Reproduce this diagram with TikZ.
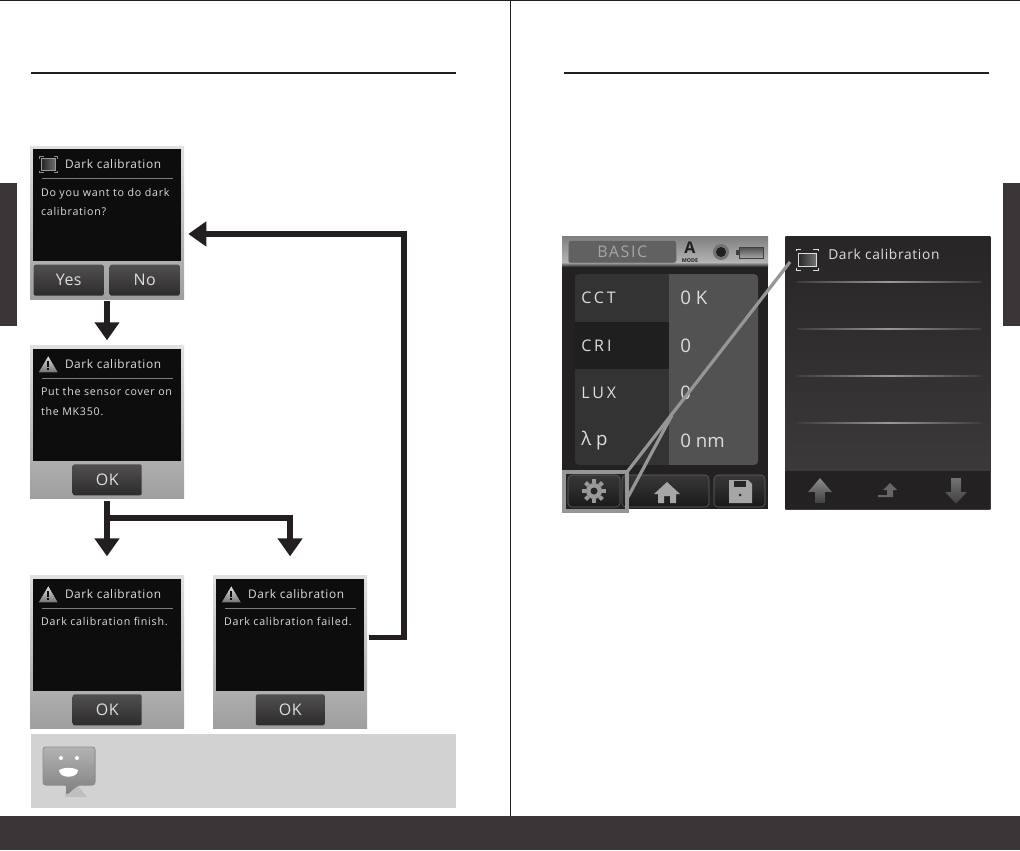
\documentclass[tikz,border=0pt]{standalone}
\usepackage{fontspec}
\setmainfont{Open Sans}
\usetikzlibrary{arrows.meta,positioning,calc}
\definecolor{inkdark}{RGB}{35,31,32}
\definecolor{bardark}{RGB}{58,54,55}
\definecolor{screenblack}{RGB}{13,13,13}
\definecolor{notegray}{RGB}{210,210,210}
\definecolor{rulegray}{RGB}{125,125,125}
\definecolor{softwhite}{RGB}{222,222,222}
\definecolor{btndark}{RGB}{50,48,49}
\definecolor{devdark}{RGB}{36,33,34}
\definecolor{devmid}{RGB}{62,60,61}
\definecolor{hilite}{RGB}{150,150,150}
\tikzset{
  framebox/.style={rectangle, inner sep=0pt, minimum width=115.5pt, minimum height=114.75pt,
                   top color=black!12, bottom color=black!38},
  blackbox/.style={rectangle, inner sep=0pt, minimum width=111pt, minimum height=84pt, fill=screenblack},
  btnbox/.style={rectangle, rounded corners=1.5pt, inner sep=0pt, minimum height=23.25pt,
                 top color=btndark!85!white, bottom color=btndark!90!black,
                 text=softwhite, font=\fontsize{12}{12}\selectfont\addfontfeature{LetterSpace=3}},
  titletext/.style={anchor=west, inner sep=0pt, text=softwhite,
                    font=\fontsize{8.9}{10}\selectfont\addfontfeature{LetterSpace=5}},
  bodytext/.style={anchor=north west, inner sep=0pt, align=left, text=softwhite,
                   font=\fontsize{8}{14.6}\selectfont\addfontfeature{LetterSpace=7}},
  flowline/.style={-{Triangle[length=13.5pt,width=18pt]}, line width=4.2pt, inkdark},
  zoomline/.style={line width=2.4pt, hilite},
  rowbox/.style={rectangle, inner sep=0pt, minimum width=70.5pt, minimum height=35.8pt},
  celltext/.style={anchor=west, inner sep=0pt, text=softwhite, font=\fontsize{12}{14}\selectfont},
  softbar/.style={rectangle, inner sep=0pt, minimum width=138pt, minimum height=0.75pt,
                  left color=devmid, right color=devmid, middle color=black!40},
}
\begin{document}
\begin{tikzpicture}[x=0.75pt,y=0.75pt]
\useasboundingbox (0,0) rectangle (1020,-850);

% page furniture
\fill[white] (0,0) rectangle (1020,-850);
\draw[inkdark,line width=0.75pt] (0,-0.5) -- (1020,-0.5);
\draw[inkdark,line width=0.75pt] (510.5,0) -- (510.5,-816);
\fill[bardark] (0,-816) rectangle (1020,-850);
\fill[bardark] (0,-183) rectangle (17,-326);
\fill[bardark] (1003,-183) rectangle (1020,-326);
\draw[inkdark,line width=1.5pt] (31,-73) -- (456,-73);
\draw[inkdark,line width=1.5pt] (564,-73) -- (989,-73);

% dialogs
\node[framebox] at (107,-222.5) (ask) {};
\node[framebox, below=34.5pt of ask] (put) {};
\node[framebox, below=57.4pt of put] (finish) {};
\node[framebox, right=21.4pt of finish] (fail) {};

\foreach \f in {ask,put,finish,fail} {
  \node[blackbox, below=2.25pt of \f.north] (\f top) {};
  \node[titletext] at ($(\f.north west)+(35,-18.5)$) (\f title) {Dark calibration};
  \draw[rulegray,line width=0.9pt] ($(\f.north west)+(12,-33)$) -- ($(\f.north west)+(143,-33)$);
}
\node[bodytext] at ($(ask.north west)+(11,-42)$) (asktext) {Do you want to do dark\\calibration?};
\node[bodytext] at ($(put.north west)+(11,-42)$) (puttext) {Put the sensor cover on\\the MK350.};
\node[bodytext] at ($(finish.north west)+(11,-42)$) (finishtext) {Dark calibration finish.};
\node[bodytext] at ($(fail.north west)+(11,-42)$) (failtext) {Dark calibration failed.};

% buttons
\node[btnbox, minimum width=52.5pt] at ($(ask.north west)+(39,-134.5)$) (yes) {Yes};
\node[btnbox, minimum width=52.5pt] at ($(ask.north west)+(115,-134.5)$) (no) {No};
\foreach \f in {put,finish,fail}
  \node[btnbox, minimum width=51.75pt] at ($(\f.north west)+(77.5,-134.5)$) (\f ok) {OK};

% warning icons
\foreach \f in {put,finish,fail} {
  \fill[top color=black!12, bottom color=black!55] ($(\f.north west)+(9,-27)$) -- ($(\f.north west)+(18.5,-11)$)
    -- ($(\f.north west)+(28,-27)$) -- cycle;
  \fill[screenblack] ($(\f.north west)+(17.5,-15.5)$) rectangle ($(\f.north west)+(19.5,-22)$);
  \fill[screenblack] ($(\f.north west)+(17.5,-23)$) rectangle ($(\f.north west)+(19.5,-25)$);
}
% monitor icon
\draw[black!45,line width=0.5pt] ($(ask.north west)+(10,-13)$) -- ++(0,2) -- ++(4,0)
  ($(ask.north west)+(28,-13)$) -- ++(0,2) -- ++(-4,0)
  ($(ask.north west)+(10,-25)$) -- ++(0,-2) -- ++(4,0)
  ($(ask.north west)+(28,-25)$) -- ++(0,-2) -- ++(-4,0);
\fill[left color=black!85, right color=black!55, draw=black!40, line width=0.5pt]
  ($(ask.north west)+(12,-13)$) rectangle ($(ask.north west)+(26,-24.5)$);

% flow
\coordinate[below=14.25pt of put.south] (split);
\coordinate (bend) at (404,-400);
\draw[flowline, shorten <=1.5pt, shorten >=3.75pt] (ask.south) -- (put.north);
\draw[flowline, shorten <=1.5pt, shorten >=14.25pt] (put.south) -- (finish.north);
\draw[flowline, shorten >=14.25pt] (split) -| (fail.north);
\draw[flowline, shorten <=1pt, shorten >=3pt] ([yshift=-46.5pt]fail.north east) -| (bend) |- ([yshift=-8.6pt]ask.east);

% note
\node[rectangle, inner sep=0pt, minimum width=318.75pt, minimum height=55.5pt, fill=notegray,
      anchor=north west] at (31,-734) (note) {};
\fill[black!25] ($(note.north west)+(36,-51)$) -- ($(note.north west)+(46,-51)$) -- ($(note.north west)+(56,-63)$)
  -- ($(note.north west)+(34,-63)$) -- cycle;
\fill[top color=black!30, bottom color=black!50, draw=black!45, line width=0.5pt, rounded corners=2pt]
  ($(note.north west)+(12,-13)$) -- ($(note.north west)+(64,-13)$) -- ($(note.north west)+(64,-51)$)
  -- ($(note.north west)+(47,-51)$) -- ($(note.north west)+(35,-61)$) -- ($(note.north west)+(36,-51)$)
  -- ($(note.north west)+(12,-51)$) -- cycle;
\fill[white] ($(note.north west)+(30,-24)$) circle (2);
\fill[white] ($(note.north west)+(46,-24)$) circle (2);
\fill[white] ($(note.north west)+(28,-36)$) .. controls ($(note.north west)+(33,-33)$) and ($(note.north west)+(42,-33)$)
  .. ($(note.north west)+(47,-36)$) .. controls ($(note.north west)+(47,-45)$) and ($(note.north west)+(28,-45)$)
  .. cycle;

% device left
\node[rectangle, inner sep=0pt, minimum width=154.5pt, minimum height=204.75pt, fill=devdark, anchor=north west]
  at (562,-236) (basicdev) {};
\fill[top color=black!50, bottom color=black!30] (562,-236) rectangle (768,-262);
\fill[top color=black!28, bottom color=black!75] (562,-262) rectangle (768,-266);
\node[rectangle, rounded corners=2pt, inner sep=0pt, minimum width=81pt, minimum height=17pt, fill=black!62,
      draw=black!45, line width=0.4pt, text=black!35, anchor=north west, font=\fontsize{12}{14}\selectfont]
  at (568,-240) (basic) {\addfontfeature{LetterSpace=10}BASIC};
\node[inner sep=0pt, text=inkdark, font=\fontsize{12}{12}\bfseries\selectfont] at (690,-247.5) (modea) {A};
\node[inner sep=0pt, text=inkdark, font=\fontsize{4}{4}\bfseries\selectfont] at (690,-260.5) (modetext) {MODE};
\fill[black!55] (721,-252) circle (8);
\fill[inkdark] (721,-252) circle (5);
\fill[top color=black!70, bottom color=black!35, draw=black!75, line width=0.5pt] (739,-247) rectangle (763,-258);
\fill[black!75] (736,-250) rectangle (739,-255);

\begin{scope}
  \clip[rounded corners=3pt] (575,-274) rectangle (758,-465);
  \foreach \y [count=\n] in {298, 345.5, 393, 441} {
    \ifnum\n=2 \node[rowbox, fill=black!88] at (622,-\y) (left\n) {};
    \else \node[rowbox, fill=black!80] at (622,-\y) (left\n) {}; \fi
    \node[rowbox, fill=black!68] at (716,-\y) (right\n) {};
  }
\end{scope}
\node[celltext] at (581,-298) (cct) {\addfontfeature{LetterSpace=18}CCT};
\node[celltext] at (581,-345.5) (cri) {\addfontfeature{LetterSpace=18}CRI};
\node[celltext] at (581,-393) (lux) {\addfontfeature{LetterSpace=18}LUX};
\node[celltext, font=\fontsize{14}{16}\selectfont] at (581,-441) (lamp) {λ p};
\node[celltext, font=\fontsize{14}{16}\selectfont] at (680,-298) (cctval) {0 K};
\node[celltext, font=\fontsize{14}{16}\selectfont] at (680,-345.5) (crival) {0};
\node[celltext, font=\fontsize{14}{16}\selectfont] at (680,-393) (luxval) {0};
\node[celltext, font=\fontsize{14}{16}\selectfont] at (680,-441) (lamval) {0 nm};

\foreach \a/\b/\m in {568/620/gearkey, 622/709/homekey, 714/765/savekey}
  \node[rectangle, rounded corners=3pt, inner sep=0pt, minimum height=24pt, minimum width=(\b-\a)*0.75pt,
        draw=black!60, line width=0.4pt, top color=black!78, bottom color=black!90] at ({(\a+\b)/2},-491) (\m) {};

% key icons
\fill[black!40] (594,-491) circle (8);
\foreach \r in {0,45,...,315}
  \fill[black!40, rotate around={\r:(594,-491)}] (592,-499) rectangle (596,-503);
\fill[black!85] (594,-491) circle (3.5);
\fill[black!35] (667,-482) -- (680,-494) -- (676,-494) -- (676,-503) -- (670,-503) -- (670,-496) -- (664,-496)
  -- (664,-503) -- (658,-503) -- (658,-494) -- (654,-494) -- cycle;
\fill[black!35] (729,-480) -- (748,-480) -- (752,-484) -- (752,-503) -- (729,-503) -- cycle;
\fill[black!85] (734,-481) rectangle (746,-487);
\fill[black!85] (740,-495) circle (1.5);

% device right
\node[rectangle, inner sep=0pt, minimum width=153.75pt, minimum height=204.75pt, top color=devdark!85!devmid,
      bottom color=devmid, anchor=north west] at (785,-236) (menudev) {};
\fill[devdark] (785,-471) rectangle (990,-509);
\foreach \y/\m in {282/bara, 329/barb, 376/barc, 423/bard}
  \node[softbar] at (889,-\y) (\m) {};
\node[titletext, font=\fontsize{10.3}{11}\selectfont] at (828,-254) (menutitle) {\addfontfeature{LetterSpace=5}Dark calibration};
\draw[softwhite,line width=0.5pt] (796,-251) -- ++(0,2) -- ++(5,0) (818,-251) -- ++(0,2) -- ++(-5,0)
  (796,-268) -- ++(0,-2) -- ++(5,0) (818,-268) -- ++(0,-2) -- ++(-5,0);
\fill[left color=black!85, right color=black!55, draw=softwhite, line width=0.7pt] (798,-253) rectangle (816,-266);
\fill[top color=black!45, bottom color=black!75] (820,-478) -- (832,-492) -- (825,-492) -- (825,-503) -- (815,-503)
  -- (815,-492) -- (808,-492) -- cycle;
\fill[black!60] (890,-483) -- (897,-490) -- (893,-490) -- (893,-497) -- (878,-497) -- (878,-495) -- (887,-495)
  -- (887,-490) -- (883,-490) -- cycle;
\fill[top color=black!55, bottom color=black!75] (951,-478) -- (961,-478) -- (961,-492) -- (967,-492) -- (956,-504)
  -- (945,-492) -- (951,-492) -- cycle;

% highlight
\coordinate (zoomfrom) at (627,-472);
\coordinate (zoomlow) at (628,-497);
\coordinate (zoomjoin) at (672,-415);
\coordinate (zoomto) at (790,-262);
\draw[hilite,line width=3pt] (564,-471.5) rectangle (626.5,-511);
\draw[zoomline] (zoomfrom) -- (zoomto);
\draw[zoomline] (zoomlow) -- (zoomjoin);
\end{tikzpicture}
\end{document}
